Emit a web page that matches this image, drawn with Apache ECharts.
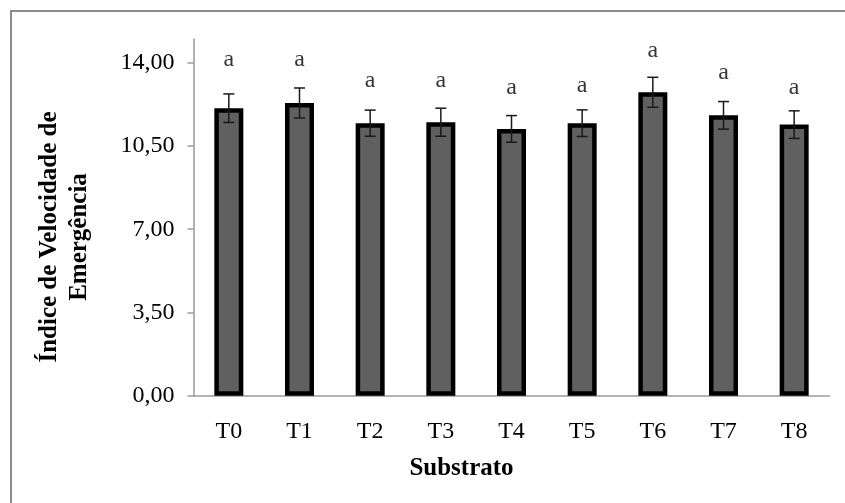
<!DOCTYPE html>
<html>
<head>
<meta charset="utf-8">
<script src="https://cdn.jsdelivr.net/npm/echarts@6/dist/echarts.min.js"></script>
<style>
  html, body { margin: 0; padding: 0; background: #fff; }
  #chart { width: 845px; height: 503px; }
</style>
</head>
<body>
<div id="chart"></div>
<script>
// Substrate treatments and emergence speed index (mean ± error)
const categories = ['T0', 'T1', 'T2', 'T3', 'T4', 'T5', 'T6', 'T7', 'T8'];
const means = [12.09, 12.31, 11.46, 11.50, 11.22, 11.46, 12.76, 11.79, 11.40];
const errors = [0.60, 0.63, 0.55, 0.59, 0.56, 0.56, 0.63, 0.58, 0.58];
// Tukey grouping letters and the height at which each one sits
const letters = ['a', 'a', 'a', 'a', 'a', 'a', 'a', 'a', 'a'];
const letterY = [14.15, 14.15, 13.26, 13.26, 12.97, 13.05, 14.52, 13.60, 12.97];
const yTicks = [0, 3.5, 7, 10.5, 14];

const FONT = '"Liberation Serif", "Times New Roman", serif';
const AXIS_GRAY = '#9a9a9a';
const FRAME_GRAY = '#8c8c8c';

const chart = echarts.init(document.getElementById('chart'), null, { renderer: 'canvas' });

const fmt = v => v.toFixed(2).replace('.', ',');

chart.setOption({
  animation: false,
  backgroundColor: '#ffffff',
  grid: { left: 193.5, right: 15.5, top: 39, bottom: 107.3, containLabel: false },
  xAxis: {
    type: 'category',
    data: categories,
    axisLine: { show: true, lineStyle: { color: AXIS_GRAY, width: 1.5 } },
    axisTick: { show: false },
    axisLabel: { color: '#000', fontFamily: FONT, fontSize: 24, margin: 24 },
    name: 'Substrato',
    nameLocation: 'middle',
    nameGap: 60,
    nameTextStyle: {
      color: '#000', fontFamily: FONT, fontSize: 25, fontWeight: 'bold',
      padding: [0, 100, 0, 0]
    }
  },
  yAxis: {
    type: 'value',
    min: 0,
    max: 15,
    axisLine: { show: true, lineStyle: { color: AXIS_GRAY, width: 1.5 } },
    axisTick: { show: true, length: 6, inside: false, customValues: yTicks, lineStyle: { color: AXIS_GRAY, width: 1.5 } },
    axisLabel: {
      customValues: yTicks,
      color: '#000', fontFamily: FONT, fontSize: 24, margin: 19,
      formatter: v => fmt(v)
    },
    splitLine: { show: false }
  },
  graphic: [
    // chart-area frame: top and left edges
    {
      type: 'line',
      shape: { x1: 10, y1: 11, x2: 845, y2: 11 },
      style: { stroke: FRAME_GRAY, lineWidth: 2 },
      silent: true, z: -10
    },
    {
      type: 'line',
      shape: { x1: 11, y1: 10, x2: 11, y2: 503 },
      style: { stroke: FRAME_GRAY, lineWidth: 2 },
      silent: true, z: -10
    },
    {
      type: 'text',
      x: 65, y: 237,
      rotation: Math.PI / 2,
      style: {
        text: 'Índice de Velocidade de\nEmergência',
        font: 'bold 25px ' + FONT,
        fill: '#000',
        align: 'center',
        verticalAlign: 'middle',
        lineHeight: 30
      }
    }
  ],
  series: [
    {
      type: 'bar',
      data: means,
      barWidth: 29,
      itemStyle: { color: '#606060', borderColor: '#000', borderWidth: 4.5 },
      z: 2
    },
    {
      // error bars with caps
      type: 'custom',
      data: means.map((m, i) => [i, m - errors[i], m + errors[i]]),
      renderItem: function (params, api) {
        const x = api.coord([api.value(0), api.value(1)])[0];
        const yLo = api.coord([api.value(0), api.value(1)])[1];
        const yHi = api.coord([api.value(0), api.value(2)])[1];
        const half = 5.5;
        const style = { stroke: '#1a1a1a', lineWidth: 1.5 };
        return {
          type: 'group',
          children: [
            { type: 'line', shape: { x1: x, y1: yHi, x2: x, y2: yLo }, style },
            { type: 'line', shape: { x1: x - half, y1: yHi, x2: x + half, y2: yHi }, style },
            { type: 'line', shape: { x1: x - half, y1: yLo, x2: x + half, y2: yLo }, style }
          ]
        };
      },
      z: 5
    },
    {
      // grouping letters above each bar
      type: 'scatter',
      data: letterY.map((v, i) => [i, v]),
      symbolSize: 0,
      clip: false,
      label: {
        show: true,
        position: 'inside',
        formatter: p => letters[p.dataIndex],
        color: '#000',
        fontFamily: FONT,
        fontSize: 24
      },
      z: 6
    }
  ]
});
</script>
</body>
</html>
